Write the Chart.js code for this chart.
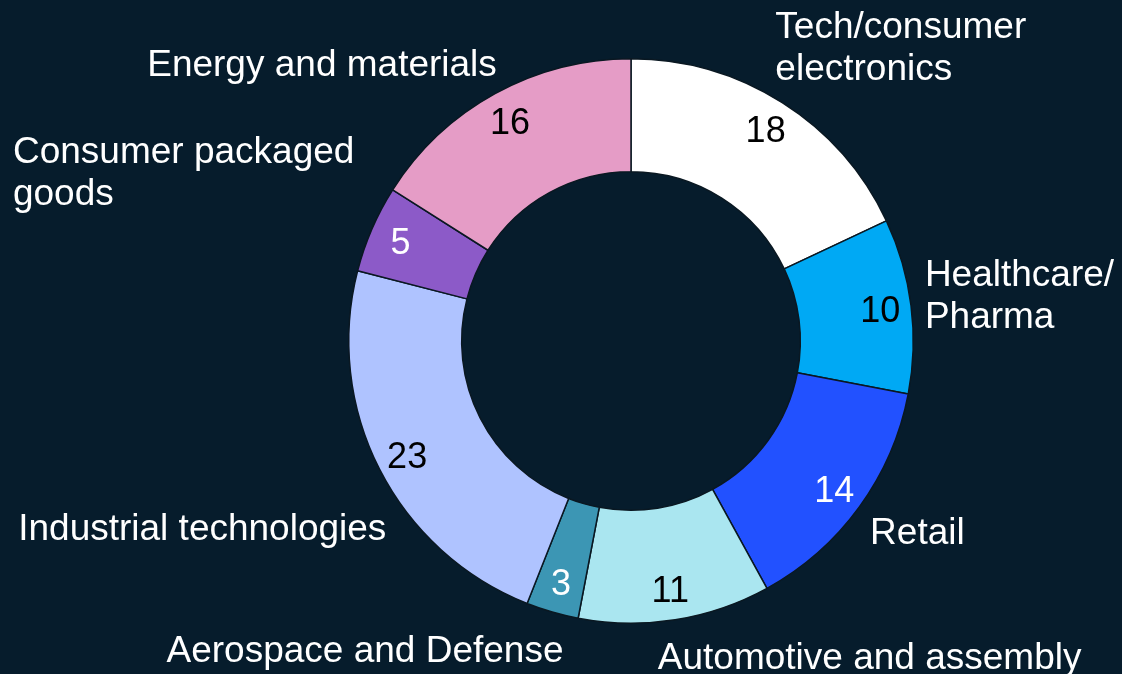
<!DOCTYPE html>
<html>
<head>
<meta charset="utf-8">
<script src="https://cdn.jsdelivr.net/npm/chart.js"></script>
<style>
  html, body { margin: 0; padding: 0; background: #061c2c; }
  #wrap { width: 1122px; height: 674px; }
</style>
</head>
<body>
<div id="wrap"><canvas id="sectorChart" width="1122" height="674"></canvas></div>
<script>
// sectors, clockwise from 12 o'clock
const sectors = [
  ['Tech/consumer', 'electronics'],
  ['Healthcare/', 'Pharma'],
  ['Retail'],
  ['Automotive and assembly'],
  ['Aerospace and Defense'],
  ['Industrial technologies'],
  ['Consumer packaged', 'goods'],
  ['Energy and materials']
];
const shares = [18, 10, 14, 11, 3, 23, 5, 16];

const sliceColors = ['#ffffff', '#00a9f4', '#2251ff', '#aae6f0', '#3c96b4', '#afc3ff', '#8c5ac8', '#e59cc6'];
const valueColors = ['#000', '#000', '#fff', '#000', '#fff', '#000', '#fff', '#000'];

// sector name placement: nudge from the point just outside each slice
const nameNudge = [[-16, -40], [-3, -7], [-3, 17], [-20, 22], [16, 23], [22, 53], [-2, -48], [10, -13]];

const FONT = '"Liberation Sans", Arial, sans-serif';

const sliceLabels = {
  id: 'sliceLabels',
  afterDatasetsDraw(chart) {
    const ctx = chart.ctx;
    const arcs = chart.getDatasetMeta(0).data;
    ctx.save();
    arcs.forEach((arc, i) => {
      const { x, y, startAngle, endAngle, outerRadius } = arc.getProps(['x', 'y', 'startAngle', 'endAngle', 'outerRadius'], true);
      const mid = (startAngle + endAngle) / 2;
      const cos = Math.cos(mid), sin = Math.sin(mid);

      // value inside the ring, near the outer edge
      const rv = outerRadius - 31;
      ctx.font = '36px ' + FONT;
      ctx.fillStyle = valueColors[i];
      ctx.textAlign = 'center';
      ctx.textBaseline = 'middle';
      ctx.fillText(String(shares[i]), x + cos * rv, y + sin * rv + 3);

      // sector name outside the ring
      const ro = outerRadius + 17;
      const ax = x + cos * ro + nameNudge[i][0];
      const ay = y + sin * ro + nameNudge[i][1];
      const lines = sectors[i];
      ctx.font = '37px ' + FONT;
      ctx.fillStyle = '#ffffff';
      ctx.textAlign = 'left';
      const blockW = Math.max(...lines.map(l => ctx.measureText(l).width));
      const left = cos >= 0 ? ax : ax - blockW;
      const lh = 42;
      const top = ay - (lines.length - 1) * lh / 2;
      lines.forEach((l, k) => ctx.fillText(l, left, top + k * lh));
    });
    ctx.restore();
  }
};

new Chart(document.getElementById('sectorChart'), {
  type: 'doughnut',
  data: {
    labels: sectors.map(s => s.join(' ')),
    datasets: [{
      data: shares,
      backgroundColor: sliceColors,
      borderColor: '#0a1822',
      borderWidth: 1.5
    }]
  },
  options: {
    responsive: false,
    devicePixelRatio: 1,
    animation: false,
    cutout: '60%',
    layout: { padding: { left: 348, right: 208, top: 58, bottom: 50 } },
    plugins: {
      legend: { display: false },
      tooltip: { enabled: false }
    }
  },
  plugins: [sliceLabels]
});
</script>
</body>
</html>
